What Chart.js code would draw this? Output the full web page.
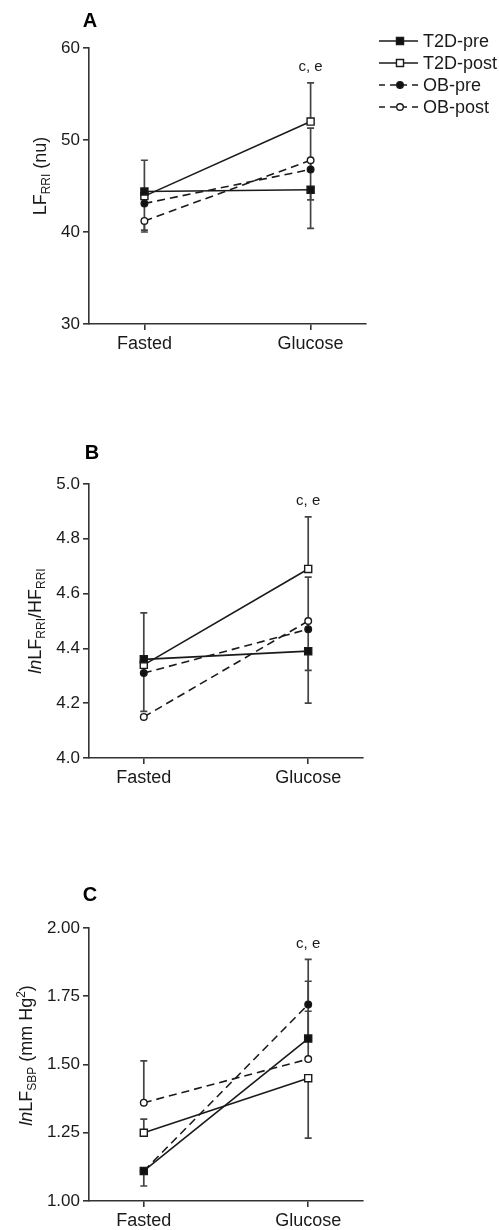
<!DOCTYPE html>
<html>
<head>
<meta charset="utf-8">
<script src="https://cdn.jsdelivr.net/npm/chart.js@4.4.1/dist/chart.umd.min.js"></script>
<style>
  body { margin: 0; background: #fff; overflow: hidden; }
  .panel { position: absolute; left: 0; width: 499px; }
</style>
</head>
<body>
<div class="panel" style="top:0"><canvas id="chartA" width="499" height="380"></canvas></div>
<div class="panel" style="top:380px"><canvas id="chartB" width="499" height="420"></canvas></div>
<div class="panel" style="top:800px"><canvas id="chartC" width="499" height="440"></canvas></div>
<script>
const categories = ['Fasted', 'Glucose'];
const groups = ['T2D-pre', 'T2D-post', 'OB-pre', 'OB-post'];

// panel A: LF RRI (nu)
const lfT2DPre = [44.4, 44.6];
const lfT2DPost = [43.9, 52.0];
const lfOBPre = [43.1, 46.8];
const lfOBPost = [41.2, 47.8];
// one-sided SEM, + drawn up, - drawn down
const lfErr = [[3.4, -4.2], [-3.9, 4.2], [null, 4.5], [-1.0, -4.3]];

// panel B: ln LF/HF RRI
const ratioT2DPre = [4.36, 4.39];
const ratioT2DPost = [4.34, 4.69];
const ratioOBPre = [4.31, 4.47];
const ratioOBPost = [4.15, 4.50];
const ratioErr = [[0.17, -0.19], [-0.17, 0.19], [null, 0.19], [null, -0.18]];

// panel C: ln LF SBP
const sbpT2DPre = [1.11, 1.595];
const sbpT2DPost = [1.25, 1.45];
const sbpOBPre = [1.11, 1.72];
const sbpOBPost = [1.36, 1.52];
const sbpErr = [[-0.055, 0.21], [0.05, -0.22], [null, 0.165], [0.153, 0.175]];

const FONT = '"Liberation Sans", Arial, sans-serif';
const INK = '#1a1a1a';

const styles = [
  { dash: [], shape: 'rect', r: 5, fill: '#111' },
  { dash: [], shape: 'rect', r: 5, fill: '#fff' },
  { dash: [8, 5], shape: 'circle', r: 3.3, fill: '#111' },
  { dash: [8, 5], shape: 'circle', r: 3.3, fill: '#fff' }
];

function drawMarker(ctx, st, x, y) {
  ctx.save();
  ctx.setLineDash([]);
  ctx.fillStyle = st.fill;
  ctx.strokeStyle = INK;
  ctx.lineWidth = 1.4;
  ctx.beginPath();
  if (st.shape === 'rect') {
    const s = st.r * Math.SQRT1_2;
    ctx.rect(x - s, y - s, 2 * s, 2 * s);
  } else {
    ctx.arc(x, y, st.r, 0, Math.PI * 2);
  }
  ctx.fill();
  ctx.stroke();
  ctx.restore();
}

const decor = {
  id: 'decor',
  beforeDatasetsDraw(chart, args, o) {
    const ctx = chart.ctx, xs = chart.scales.x, ys = chart.scales.y;
    ctx.save();
    ctx.strokeStyle = '#444';
    ctx.lineWidth = 1.7;
    let topY = Infinity;
    chart.data.datasets.forEach((ds, i) => {
      ds.data.forEach((p, j) => {
        const e = o.errors[i][j];
        if (e == null) return;
        const x = xs.getPixelForValue(p.x);
        const y0 = ys.getPixelForValue(p.y);
        const y1 = ys.getPixelForValue(p.y + e);
        if (j === 1) topY = Math.min(topY, y1);
        ctx.beginPath();
        ctx.moveTo(x, y0); ctx.lineTo(x, y1);
        ctx.moveTo(x - 3.5, y1); ctx.lineTo(x + 3.5, y1);
        ctx.stroke();
      });
    });
    ctx.restore();
    chart.$noteY = topY;
  },
  afterDraw(chart, args, o) {
    const ctx = chart.ctx, area = chart.chartArea;
    ctx.save();
    // panel letter
    ctx.fillStyle = '#000';
    ctx.font = 'bold 20px ' + FONT;
    ctx.textAlign = 'center';
    ctx.textBaseline = 'middle';
    ctx.fillText(o.letter, o.letterX, o.letterY);
    // significance note over the glucose bar
    ctx.fillStyle = INK;
    ctx.font = '15px ' + FONT;
    ctx.fillText(o.note, chart.scales.x.getPixelForValue(1), chart.$noteY - 16);
    // rotated y title with sub/superscripts
    ctx.translate(o.titleX, (area.top + area.bottom) / 2 + o.titleShift);
    ctx.rotate(-Math.PI / 2);
    ctx.textAlign = 'left';
    ctx.textBaseline = 'alphabetic';
    const fontOf = p => (p.italic ? 'italic ' : '') + ((p.sub || p.sup) ? '12px ' : '18px ') + FONT;
    let total = 0;
    o.title.forEach(p => { ctx.font = fontOf(p); total += ctx.measureText(p.t).width; });
    let cx = -total / 2;
    o.title.forEach(p => {
      ctx.font = fontOf(p);
      const dy = p.sub ? 4 : p.sup ? -7 : 0;
      ctx.fillText(p.t, cx, dy);
      cx += ctx.measureText(p.t).width;
    });
    ctx.restore();
    // legend (panel A only)
    if (o.legend) {
      ctx.save();
      chart.data.datasets.forEach((ds, i) => {
        const st = styles[i];
        const y = o.legend.y + i * o.legend.gap;
        ctx.strokeStyle = INK;
        ctx.lineWidth = 1.5;
        ctx.setLineDash(st.dash.length ? [6, 5] : []);
        ctx.beginPath();
        ctx.moveTo(o.legend.x, y); ctx.lineTo(o.legend.x + 39, y);
        ctx.stroke();
        drawMarker(ctx, st, o.legend.x + 21, y);
        ctx.fillStyle = INK;
        ctx.font = '18px ' + FONT;
        ctx.textAlign = 'left';
        ctx.textBaseline = 'middle';
        ctx.fillText(ds.label, o.legend.x + 44, y + 1);
      });
      ctx.restore();
    }
  }
};

function makeDatasets(series) {
  return series.map((vals, i) => {
    const st = styles[i];
    return {
      label: groups[i],
      data: vals.map((v, j) => ({ x: j, y: v })),
      borderColor: INK,
      borderWidth: 1.6,
      borderDash: st.dash,
      pointStyle: st.shape,
      pointRadius: st.r,
      pointBackgroundColor: st.fill,
      pointBorderColor: INK,
      pointBorderWidth: 1.4,
      tension: 0
    };
  });
}

function makePanel(id, series, y, pad, decorOpts) {
  const axisLine = { display: true, color: '#333', width: 1.6 };
  const tickGrid = { drawOnChartArea: false, drawTicks: true, tickLength: 6, color: '#333', lineWidth: 1.6 };
  return new Chart(document.getElementById(id), {
    type: 'line',
    data: { datasets: makeDatasets(series) },
    options: {
      responsive: false,
      animation: false,
      layout: { padding: pad },
      scales: {
        x: {
          type: 'linear',
          min: -1 / 3,
          max: 4 / 3,
          border: axisLine,
          grid: tickGrid,
          afterBuildTicks: s => { s.ticks = categories.map((c, i) => ({ value: i })); },
          afterFit: s => { s.height = 36; },
          ticks: {
            callback: v => categories[v],
            color: INK,
            padding: 3,
            font: { family: FONT, size: 18 }
          }
        },
        y: {
          min: y.min,
          max: y.max,
          border: axisLine,
          grid: tickGrid,
          afterFit: s => { s.width = 89; },
          ticks: {
            stepSize: y.step,
            callback: v => v.toFixed(y.dec),
            color: INK,
            padding: 3,
            font: { family: FONT, size: 17 }
          }
        }
      },
      plugins: {
        legend: { display: false },
        tooltip: { enabled: false },
        decor: decorOpts
      }
    },
    plugins: [decor]
  });
}

makePanel('chartA',
  [lfT2DPre, lfT2DPost, lfOBPre, lfOBPost],
  { min: 30, max: 60, step: 10, dec: 0 },
  { top: 48, right: 133, bottom: 20, left: 0 },
  {
    letter: 'A', letterX: 90, letterY: 21,
    note: 'c, e', errors: lfErr,
    titleX: 46, titleShift: -10,
    title: [{ t: 'LF' }, { t: 'RRI', sub: true }, { t: ' (nu)' }],
    legend: { x: 379, y: 41, gap: 22 }
  });

makePanel('chartB',
  [ratioT2DPre, ratioT2DPost, ratioOBPre, ratioOBPost],
  { min: 4.0, max: 5.0, step: 0.2, dec: 1 },
  { top: 104, right: 136, bottom: 6, left: 0 },
  {
    letter: 'B', letterX: 92, letterY: 73,
    note: 'c, e', errors: ratioErr,
    titleX: 41, titleShift: 0,
    title: [{ t: 'ln', italic: true }, { t: 'LF' }, { t: 'RRI', sub: true }, { t: '/HF' }, { t: 'RRI', sub: true }]
  });

makePanel('chartC',
  [sbpT2DPre, sbpT2DPost, sbpOBPre, sbpOBPost],
  { min: 1.0, max: 2.0, step: 0.25, dec: 2 },
  { top: 128, right: 136, bottom: 3, left: 0 },
  {
    letter: 'C', letterX: 90, letterY: 95,
    note: 'c, e', errors: sbpErr,
    titleX: 32, titleShift: -9,
    title: [{ t: 'ln', italic: true }, { t: 'LF' }, { t: 'SBP', sub: true }, { t: ' (mm Hg' }, { t: '2', sup: true }, { t: ')' }]
  });
</script>
</body>
</html>
